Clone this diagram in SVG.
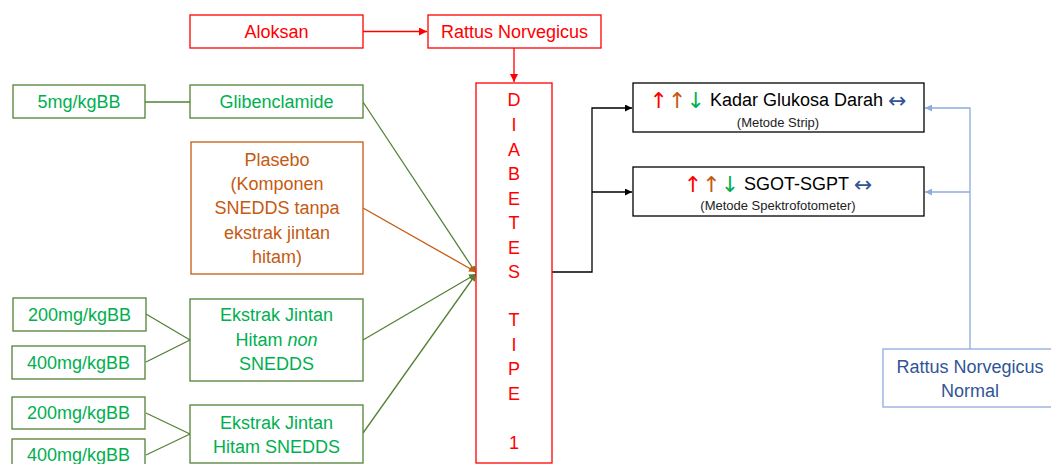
<svg xmlns="http://www.w3.org/2000/svg" width="1051" height="464" viewBox="0 0 1051 464">
<style>
text{font-family:"Liberation Sans",Arial,sans-serif;text-anchor:middle;dominant-baseline:central}
.box{fill:#fff;stroke-width:1.3}
.r{stroke:#FF0000}.rt{fill:#FF0000;font-size:18px}
.g{stroke:#548235}.gt{fill:#00B050;font-size:18px}
.o{stroke:#C55A11}.ot{fill:#C55A11;font-size:18px}
.k{stroke:#000}.bt{fill:#2F5597;font-size:18px}
.b{stroke:#8FAADC}
.ln{fill:none;stroke-width:1.3}
.sm{font-size:13px;fill:#222}
.arw{font-family:"DejaVu Sans",sans-serif;font-size:22px}
</style>
<defs>
<marker id="ar" viewBox="0 0 10 10" refX="10" refY="5" markerWidth="8" markerHeight="8" markerUnits="userSpaceOnUse" orient="auto"><path d="M0,0L10,5L0,10z" fill="#FF0000"/></marker>
<marker id="ak" viewBox="0 0 10 10" refX="10" refY="5" markerWidth="7" markerHeight="7" markerUnits="userSpaceOnUse" orient="auto"><path d="M0,0L10,5L0,10z" fill="#000"/></marker>
<marker id="ab" viewBox="0 0 10 10" refX="10" refY="5" markerWidth="7" markerHeight="7" markerUnits="userSpaceOnUse" orient="auto"><path d="M0,0L10,5L0,10z" fill="#8FAADC"/></marker>
<marker id="ag" viewBox="0 0 10 10" refX="10" refY="5" markerWidth="7" markerHeight="7" markerUnits="userSpaceOnUse" orient="auto"><path d="M0,0L10,5L0,10z" fill="#548235"/></marker>
<marker id="ao" viewBox="0 0 10 10" refX="10" refY="5" markerWidth="7" markerHeight="7" markerUnits="userSpaceOnUse" orient="auto"><path d="M0,0L10,5L0,10z" fill="#C55A11"/></marker>
</defs>

<g id="connectors">
<line class="ln r" x1="363" y1="31.5" x2="427" y2="31.5" marker-end="url(#ar)"/>
<line class="ln r" x1="514" y1="48" x2="514" y2="82" marker-end="url(#ar)"/>
<line class="ln g" x1="145" y1="102" x2="190" y2="102"/>
<line class="ln g" x1="146" y1="314" x2="190" y2="340"/>
<line class="ln g" x1="146" y1="362" x2="190" y2="340"/>
<line class="ln g" x1="146" y1="413" x2="190" y2="434"/>
<line class="ln g" x1="146" y1="455" x2="190" y2="434"/>
<line class="ln g" x1="363" y1="102" x2="476" y2="273" marker-end="url(#ag)"/>
<line class="ln o" x1="363" y1="208" x2="476" y2="272" marker-end="url(#ao)"/>
<line class="ln g" x1="363" y1="340" x2="476" y2="274" marker-end="url(#ag)"/>
<line class="ln g" x1="363" y1="433" x2="476" y2="274" marker-end="url(#ag)"/>
<polyline class="ln k" points="552,272 592,272 592,108 632,108" marker-end="url(#ak)"/>
<polyline class="ln k" points="592,192 632,192" marker-end="url(#ak)"/>
<polyline class="ln b" points="970,349 970,108 925,108" marker-end="url(#ab)"/>
<polyline class="ln b" points="970,192 925,192" marker-end="url(#ab)"/>
</g>

<g id="aloksan"><rect class="box r" x="190" y="15" width="173" height="33"/><text class="rt" x="276.5" y="31.5">Aloksan</text></g>
<g id="rattus"><rect class="box r" x="428" y="15" width="173" height="33"/><text class="rt" x="514.5" y="31.5">Rattus Norvegicus</text></g>

<g id="diabetes"><rect class="box r" x="476" y="83" width="76" height="380"/>
<text class="rt" x="514" y="100">D</text><text class="rt" x="514" y="125">I</text><text class="rt" x="514" y="150">A</text><text class="rt" x="514" y="174">B</text><text class="rt" x="514" y="199">E</text><text class="rt" x="514" y="223">T</text><text class="rt" x="514" y="248">E</text><text class="rt" x="514" y="272">S</text><text class="rt" x="514" y="320">T</text><text class="rt" x="514" y="345">I</text><text class="rt" x="514" y="369">P</text><text class="rt" x="514" y="394">E</text><text class="rt" x="514" y="443">1</text>
</g>

<g id="dose-glib"><rect class="box g" x="13" y="85" width="132" height="33"/><text class="gt" x="79" y="101.5">5mg/kgBB</text></g>
<g id="glibenclamide"><rect class="box g" x="190" y="85" width="173" height="33"/><text class="gt" x="276.5" y="101.5">Glibenclamide</text></g>

<g id="plasebo"><rect class="box o" x="191" y="142" width="172" height="132"/>
<text class="ot" x="277" y="160">Plasebo</text><text class="ot" x="277" y="184">(Komponen</text><text class="ot" x="277" y="208">SNEDDS tanpa</text><text class="ot" x="277" y="233">ekstrak jintan</text><text class="ot" x="277" y="257">hitam)</text></g>

<g id="dose-non-200"><rect class="box g" x="13" y="298" width="133" height="33"/><text class="gt" x="79.5" y="314.5">200mg/kgBB</text></g>
<g id="dose-non-400"><rect class="box g" x="12" y="346" width="133" height="33"/><text class="gt" x="78.5" y="362.5">400mg/kgBB</text></g>
<g id="ekstrak-non"><rect class="box g" x="190" y="299" width="173" height="82"/>
<text class="gt" x="276.5" y="315">Ekstrak Jintan</text><text class="gt" x="276.5" y="340">Hitam <tspan font-style="italic">non</tspan></text><text class="gt" x="276.5" y="364">SNEDDS</text></g>

<g id="dose-sn-200"><rect class="box g" x="12" y="397" width="133" height="32"/><text class="gt" x="78.5" y="413">200mg/kgBB</text></g>
<g id="dose-sn-400"><rect class="box g" x="12" y="439" width="133" height="33"/><text class="gt" x="78.5" y="455">400mg/kgBB</text></g>
<g id="ekstrak-snedds"><rect class="box g" x="190" y="405" width="173" height="58"/>
<text class="gt" x="276.5" y="423">Ekstrak Jintan</text><text class="gt" x="276.5" y="447">Hitam SNEDDS</text></g>

<g id="kadar"><rect class="box k" x="633" y="83" width="291" height="49"/>
<text x="778" y="100" style="font-size:18px;fill:#000"><tspan class="arw" fill="#FF0000">↑</tspan><tspan class="arw" fill="#C55A11">↑</tspan><tspan class="arw" fill="#00B050">↓</tspan> Kadar Glukosa Darah <tspan class="arw" fill="#2F5597">↔</tspan></text>
<text class="sm" x="778" y="122">(Metode Strip)</text></g>

<g id="sgot"><rect class="box k" x="633" y="167" width="291" height="49"/>
<text x="778" y="184" style="font-size:18px;fill:#000"><tspan class="arw" fill="#FF0000">↑</tspan><tspan class="arw" fill="#C55A11">↑</tspan><tspan class="arw" fill="#00B050">↓</tspan> SGOT-SGPT <tspan class="arw" fill="#2F5597">↔</tspan></text>
<text class="sm" x="778" y="205">(Metode Spektrofotometer)</text></g>

<g id="rattus-normal"><rect class="box b" x="883" y="349" width="175" height="58"/>
<text class="bt" x="970" y="367">Rattus Norvegicus</text><text class="bt" x="970" y="391">Normal</text></g>
</svg>
